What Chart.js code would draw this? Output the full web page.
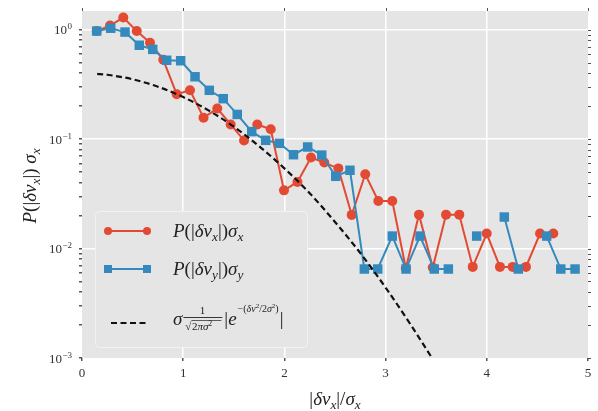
<!DOCTYPE html>
<html>
<head>
    <meta charset="utf-8">
    <title>Velocity increment PDF</title>
    <script src="https://cdn.jsdelivr.net/npm/chart.js"></script>
    <style>
        html, body { margin: 0; padding: 0; background: #fff; }
        #wrap { width: 598px; height: 411px; }
    </style>
</head>
<body>
<div id="wrap"><canvas id="pdfChart" width="598" height="411"></canvas></div>
<script>
    // values
    const redX = [0.145, 0.277, 0.408, 0.541, 0.672, 0.803, 0.936, 1.067, 1.201, 1.337, 1.469, 1.601,
        1.732, 1.865, 1.996, 2.129, 2.263, 2.394, 2.533, 2.665, 2.799, 2.928, 3.066, 3.2, 3.33,
        3.466, 3.597, 3.728, 3.861, 3.999, 4.13, 4.256, 4.387, 4.526, 4.657];
    const redY = [0.97, 1.09, 1.29, 0.97, 0.76, 0.53, 0.257, 0.279, 0.157, 0.19, 0.136, 0.097,
        0.136, 0.123, 0.034, 0.0406, 0.0678, 0.061, 0.054, 0.0203, 0.0477, 0.0272, 0.0272, 0.0066, 0.0204,
        0.0067, 0.0204, 0.0204, 0.0068, 0.0137, 0.0068, 0.0068, 0.0068, 0.0137, 0.0137];

    const blueX = [0.145, 0.284, 0.425, 0.566, 0.699, 0.837, 0.975, 1.117, 1.258, 1.396, 1.534, 1.677,
        1.815, 1.951, 2.09, 2.23, 2.369, 2.507, 2.648, 2.79, 2.922, 3.066, 3.202, 3.34, 3.481,
        3.62, 3.758, 3.9, 4.038, 4.173, 4.311, 4.451, 4.592, 4.731, 4.872];
    const blueY = [0.97, 1.03, 0.95, 0.72, 0.66, 0.525, 0.52, 0.371, 0.279, 0.234, 0.168, 0.117,
        0.0975, 0.0915, 0.072, 0.0847, 0.0714, 0.0457, 0.0519, 0.0065, 0.0065, 0.013, 0.0065, 0.013, 0.0065,
        0.0065, null, 0.013, null, 0.0194, 0.0065, null, 0.013, 0.0065, 0.0065];

    // dashed reference curve, read at a few positions
    const gaussX = [0.15, 0.25, 0.5, 0.75, 1.0, 1.25, 1.5, 1.75, 2.0, 2.25, 2.5, 2.75, 3.0, 3.25, 3.5];
    const gaussY = [0.395, 0.387, 0.352, 0.301, 0.242, 0.183, 0.130, 0.086, 0.054, 0.032, 0.0175,
        0.0091, 0.0044, 0.0020, 0.00087];

    const xTicks = [0, 1, 2, 3, 4, 5];
    const yDecades = [-3, -2, -1, 0];

    const RED = '#E24A33';
    const BLUE = '#348ABD';
    const SERIF = '"Liberation Serif", "DejaVu Serif", serif';

    const pts = (xs, ys) => xs.map((x, i) => ({ x: x, y: ys[i] }));

    function isMajor(v) {
        const l = Math.log10(v);
        return Math.abs(l - Math.round(l)) < 1e-6;
    }

    // draws text runs: style letters i = italic, s = subscript, u = superscript
    function rich(ctx, segs, x, y, size, dry) {
        let cx = x;
        for (const [t, st] of segs) {
            const small = st.includes('s') || st.includes('u');
            const fs = small ? size * 0.7 : size;
            ctx.font = (st.includes('i') ? 'italic ' : '') + fs + 'px ' + SERIF;
            const dy = st.includes('s') ? size * 0.22 : st.includes('u') ? -size * 0.4 : 0;
            if (!dry) ctx.fillText(t, cx, y + dy);
            cx += ctx.measureText(t).width;
        }
        return cx - x;
    }

    const labelX = [['P', 'i'], ['(|', ''], ['δv', 'i'], ['x', 'is'], ['|)', ''], ['σ', 'i'], ['x', 'is']];
    const labelY = [['P', 'i'], ['(|', ''], ['δv', 'i'], ['y', 'is'], ['|)', ''], ['σ', 'i'], ['y', 'is']];
    const yTitle = [['P', 'i'], ['(|', ''], ['δv', 'i'], ['x', 'is'], ['|) ', ''], ['σ', 'i'], ['x', 'is']];
    const xTitle = [['|', ''], ['δv', 'i'], ['x', 'is'], ['|/', ''], ['σ', 'i'], ['x', 'is']];

    const decor = {
        id: 'decor',
        beforeDraw(chart) {
            const { ctx, chartArea: a } = chart;
            ctx.save();
            ctx.fillStyle = '#fff';
            ctx.fillRect(0, 0, chart.width, chart.height);
            ctx.fillStyle = '#E5E5E5';
            ctx.fillRect(a.left, a.top, a.right - a.left, a.bottom - a.top);
            ctx.restore();
        },
        afterDraw(chart) {
            const { ctx, chartArea: a } = chart;
            const ys = chart.scales.y, xs = chart.scales.x;
            ctx.save();

            // tick marks on top and right side
            ctx.strokeStyle = '#555';
            ctx.lineWidth = 1;
            ys.ticks.forEach(t => {
                const p = Math.round(ys.getPixelForValue(t.value)) + 0.5;
                ctx.beginPath();
                ctx.moveTo(a.right, p);
                ctx.lineTo(a.right + 3, p);
                ctx.stroke();
            });
            xTicks.forEach(v => {
                const p = Math.round(xs.getPixelForValue(v)) + 0.5;
                ctx.beginPath();
                ctx.moveTo(p, a.top);
                ctx.lineTo(p, a.top - 3);
                ctx.stroke();
            });

            // y tick labels 10^k
            ctx.fillStyle = '#333';
            ctx.textAlign = 'left';
            ctx.textBaseline = 'alphabetic';
            yDecades.forEach(k => {
                const p = ys.getPixelForValue(Math.pow(10, k));
                const ex = k < 0 ? '−' + (-k) : String(k);
                ctx.font = '9px ' + SERIF;
                const ew = ctx.measureText(ex).width;
                ctx.fillText(ex, 72 - ew, p - 0.5);
                ctx.font = '13px ' + SERIF;
                const bw = ctx.measureText('10').width;
                ctx.fillText('10', 72 - ew - bw - 0.5, p + 4.5);
            });

            // axis titles
            ctx.fillStyle = '#222';
            const wx = rich(ctx, xTitle, 0, 0, 19, true);
            rich(ctx, xTitle, 335 - wx / 2, 405, 19);
            const wy = rich(ctx, yTitle, 0, 0, 19, true);
            ctx.save();
            ctx.translate(36, 186);
            ctx.rotate(-Math.PI / 2);
            rich(ctx, yTitle, -wy / 2, 0, 19);
            ctx.restore();

            // legend box
            ctx.beginPath();
            ctx.roundRect(95.5, 211.5, 212, 136, 4);
            ctx.fillStyle = '#E5E5E5';
            ctx.fill();
            ctx.strokeStyle = '#F2F2F2';
            ctx.lineWidth = 1;
            ctx.stroke();

            // red row
            ctx.strokeStyle = RED;
            ctx.fillStyle = RED;
            ctx.lineWidth = 2;
            ctx.beginPath(); ctx.moveTo(108, 231); ctx.lineTo(147, 231); ctx.stroke();
            [108, 147].forEach(px => { ctx.beginPath(); ctx.arc(px, 231, 4, 0, Math.PI * 2); ctx.fill(); });
            // blue row
            ctx.strokeStyle = BLUE;
            ctx.fillStyle = BLUE;
            ctx.beginPath(); ctx.moveTo(108, 269); ctx.lineTo(147, 269); ctx.stroke();
            [108, 147].forEach(px => ctx.fillRect(px - 4, 265, 8, 8));
            // dashed row
            ctx.strokeStyle = '#111';
            ctx.lineWidth = 2.2;
            ctx.setLineDash([6, 3.5]);
            ctx.beginPath(); ctx.moveTo(111, 323); ctx.lineTo(148, 323); ctx.stroke();
            ctx.setLineDash([]);

            ctx.fillStyle = '#222';
            rich(ctx, labelX, 173, 237, 19);
            rich(ctx, labelY, 173, 275, 19);

            // sigma 1/sqrt(2 pi sigma^2) |e^{-(dv^2/2 sigma^2)}|
            let cx = 173;
            cx += rich(ctx, [['σ', 'i']], cx, 325, 19);
            const fracL = cx + 1, fracR = cx + 40;
            ctx.font = '11px ' + SERIF;
            ctx.fillText('1', (fracL + fracR) / 2 - 3, 314);
            ctx.fillRect(fracL, 317, fracR - fracL, 0.9);
            ctx.font = '11px ' + SERIF;
            ctx.fillText('√', fracL + 2, 330);
            const sx = fracL + 2 + ctx.measureText('√').width;
            ctx.fillRect(sx, 320, fracR - 1 - sx, 0.7);
            let dx = sx + 0.5;
            dx += rich(ctx, [['2', ''], ['πσ', 'i']], dx, 330, 11);
            rich(ctx, [['2', 'u']], dx, 330, 11);
            cx = fracR + 2;
            cx += rich(ctx, [['|', ''], ['e', 'i']], cx, 325, 19);
            let ux = cx + 1;
            ux += rich(ctx, [['−', ''], ['(', '']], ux, 312, 10);
            ux += rich(ctx, [['δv', 'i']], ux, 312, 10);
            ux += rich(ctx, [['2', 'u']], ux, 312, 10);
            ux += rich(ctx, [['/2', ''], ['σ', 'i']], ux, 312, 10);
            ux += rich(ctx, [['2', 'u']], ux, 312, 10);
            ux += rich(ctx, [[')', '']], ux, 312, 10);
            rich(ctx, [['|', '']], ux + 1, 325, 19);

            ctx.restore();
        }
    };

    new Chart(document.getElementById('pdfChart'), {
        type: 'line',
        data: {
            datasets: [
                {
                    label: 'P(|δv_x|)σ_x',
                    data: pts(redX, redY),
                    borderColor: RED,
                    backgroundColor: RED,
                    borderWidth: 2,
                    pointStyle: 'circle',
                    pointRadius: 5,
                    pointBorderWidth: 0,
                    order: 3
                },
                {
                    label: 'P(|δv_y|)σ_y',
                    data: pts(blueX, blueY),
                    borderColor: BLUE,
                    backgroundColor: BLUE,
                    borderWidth: 2,
                    pointStyle: 'rect',
                    pointRadius: 6.7,
                    pointBorderWidth: 0,
                    order: 2
                },
                {
                    label: 'gauss',
                    data: pts(gaussX, gaussY),
                    borderColor: '#111',
                    borderWidth: 2.2,
                    borderDash: [6, 3.5],
                    pointRadius: 0,
                    cubicInterpolationMode: 'monotone',
                    order: 1
                }
            ]
        },
        options: {
            responsive: false,
            devicePixelRatio: 1,
            animation: false,
            spanGaps: false,
            layout: { padding: { top: 11, right: 10, left: 0, bottom: 0 } },
            plugins: { legend: { display: false }, tooltip: { enabled: false } },
            scales: {
                x: {
                    type: 'linear',
                    min: 0,
                    max: 5,
                    afterBuildTicks: s => { s.ticks = xTicks.map(v => ({ value: v })); },
                    afterFit: s => { s.height = 53; },
                    ticks: { font: { family: SERIF, size: 13 }, color: '#333', padding: 5 },
                    grid: {
                        color: c => (c.tick && c.tick.value > 0 && c.tick.value < 5) ? '#fff' : 'rgba(0,0,0,0)',
                        lineWidth: 1.5,
                        tickColor: '#555',
                        tickLength: 3,
                        drawTicks: true
                    },
                    border: { display: false }
                },
                y: {
                    type: 'logarithmic',
                    min: 0.001,
                    max: 1.48,
                    afterBuildTicks: s => {
                        const t = [];
                        for (let k = -3; k <= 0; k++) {
                            for (let m = 1; m <= 9; m++) {
                                const v = m * Math.pow(10, k);
                                if (v <= 1.48) t.push({ value: v });
                            }
                        }
                        s.ticks = t;
                    },
                    afterFit: s => { s.width = 82; },
                    ticks: { display: false },
                    grid: {
                        color: c => (c.tick && isMajor(c.tick.value) && c.tick.value > 0.0011) ? '#fff' : 'rgba(0,0,0,0)',
                        lineWidth: 1.5,
                        tickColor: '#555',
                        tickLength: 3,
                        drawTicks: true
                    },
                    border: { display: false }
                }
            }
        },
        plugins: [decor]
    });
</script>
</body>
</html>
